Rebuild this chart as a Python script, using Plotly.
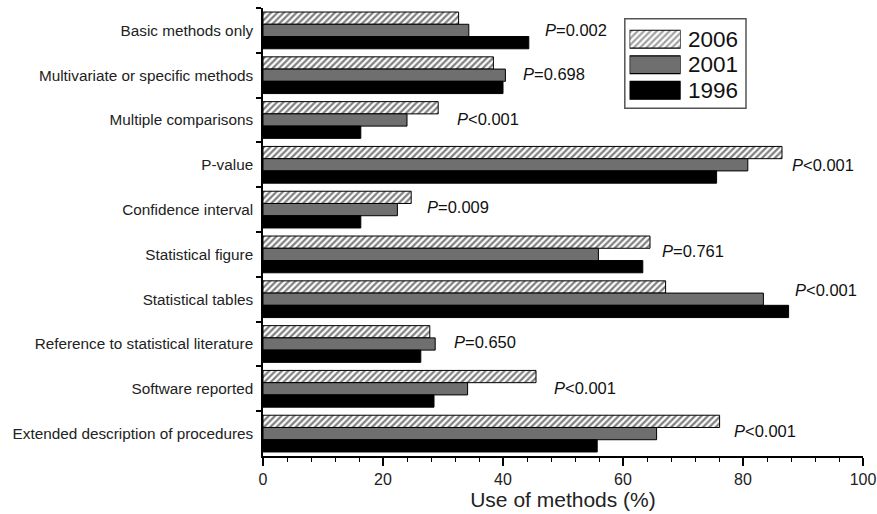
import plotly.graph_objects as go

# ---- data ----
categories = [
    "Basic methods only",
    "Multivariate or specific methods",
    "Multiple comparisons",
    "P-value",
    "Confidence interval",
    "Statistical figure",
    "Statistical tables",
    "Reference to statistical literature",
    "Software reported",
    "Extended description of procedures",
]
years = ["2006", "2001", "1996"]
values_2006 = [32.6, 38.4, 29.2, 86.5, 24.7, 64.5, 67.1, 27.8, 45.5, 76.1]
values_2001 = [34.3, 40.4, 24.0, 80.8, 22.4, 55.9, 83.4, 28.7, 34.1, 65.6]
values_1996 = [44.3, 40.0, 16.3, 75.6, 16.3, 63.3, 87.6, 26.3, 28.5, 55.7]
p_labels = ["=0.002", "=0.698", "<0.001", "<0.001", "=0.009",
            "=0.761", "<0.001", "=0.650", "<0.001", "<0.001"]
x_ticks = [0, 20, 40, 60, 80, 100]

# ---- styling ----
FONT = "Liberation Sans, Arial, sans-serif"
series = [values_2006, values_2001, values_1996]
fill_colors = ["white", "#6f6f6f", "#000000"]
fill_patterns = ["/", "", ""]
label_xshift = [14, 16, 17, 8, 14, 10, 4, 17, 16, 12]
label_yshift = [0, 1, 1, 0, 3, 3, 9, 2, 1, 3]

fig = go.Figure()
for name, vals, c, p in zip(years, series, fill_colors, fill_patterns):
    fig.add_trace(go.Bar(
        y=categories, x=vals, orientation="h", name=name,
        marker=dict(color=c, line=dict(color="black", width=1),
                    pattern=dict(shape=p, fgcolor="black", bgcolor=c, size=4.5, solidity=0.5)),
        showlegend=False,
    ))

# hand-drawn legend using an overlay axis (one trace, per-point style)
legend_pos = list(range(len(years)))
fig.add_trace(go.Bar(
    y=legend_pos, x=[1] * len(years), orientation="h", xaxis="x2", yaxis="y2",
    marker=dict(color=fill_colors, line=dict(color="black", width=1.2),
                pattern=dict(shape=fill_patterns, fgcolor="black", bgcolor=fill_colors,
                             size=4.5, solidity=0.5)),
    showlegend=False, hoverinfo="skip", width=0.7,
))

annotations = []
for i, (cat, lab) in enumerate(zip(categories, p_labels)):
    xmax = max(values_2006[i], values_2001[i], values_1996[i])
    annotations.append(dict(
        x=xmax, y=cat, xref="x", yref="y", text="<i>P</i>" + lab,
        showarrow=False, xanchor="left", yanchor="middle",
        xshift=label_xshift[i], yshift=label_yshift[i],
        font=dict(family=FONT, size=16.5, color="#111"),
    ))
for pos, name in zip(legend_pos, years):
    annotations.append(dict(
        x=1.0, y=pos, xref="x2", yref="y2", text=name,
        showarrow=False, xanchor="left", yanchor="middle", xshift=5,
        font=dict(family=FONT, size=22.5, color="#111"),
    ))

fig.update_layout(
    width=877, height=514,
    margin=dict(l=263, r=14, t=8, b=58),
    paper_bgcolor="white", plot_bgcolor="white",
    barmode="group", bargap=0.18, bargroupgap=0,
    font=dict(family=FONT, size=14, color="#222"),
    showlegend=False,
    xaxis=dict(
        range=[0, 100], tickvals=x_ticks, ticks="outside", ticklen=8, tickwidth=1.5,
        tickcolor="black", showline=True, linecolor="black", linewidth=1.5,
        showgrid=False, zeroline=False, automargin=False,
        minor=dict(dtick=4, ticks="outside", ticklen=4, tickwidth=1.2, tickcolor="black"),
        tickfont=dict(size=16, family=FONT, color="#222"),
        title=dict(text="Use of methods (%)", font=dict(size=21, family=FONT, color="#222"), standoff=0),
    ),
    yaxis=dict(
        categoryorder="array", categoryarray=categories, autorange="reversed",
        tickson="boundaries", ticks="outside", ticklen=5, tickwidth=1.5, tickcolor="black",
        showline=True, linecolor="black", linewidth=1.5, showgrid=False, zeroline=False,
        automargin=False, ticklabelstandoff=5,
        tickfont=dict(size=15.3, family=FONT, color="#222"),
    ),
    xaxis2=dict(domain=[0.611, 0.696], range=[0, 1], visible=False, anchor="y2", fixedrange=True),
    yaxis2=dict(domain=[0.7877, 0.9589], range=[2.5, -0.5], visible=False, anchor="x2",
                fixedrange=True),
    annotations=annotations,
    shapes=[dict(type="rect", xref="paper", yref="paper", x0=0.603, x1=0.805,
                 y0=0.7765, y1=0.976, line=dict(color="#555", width=1.5))],
)
fig.write_html("out.html", config={"displayModeBar": False},
               post_script="document.body.style.margin='0';")
